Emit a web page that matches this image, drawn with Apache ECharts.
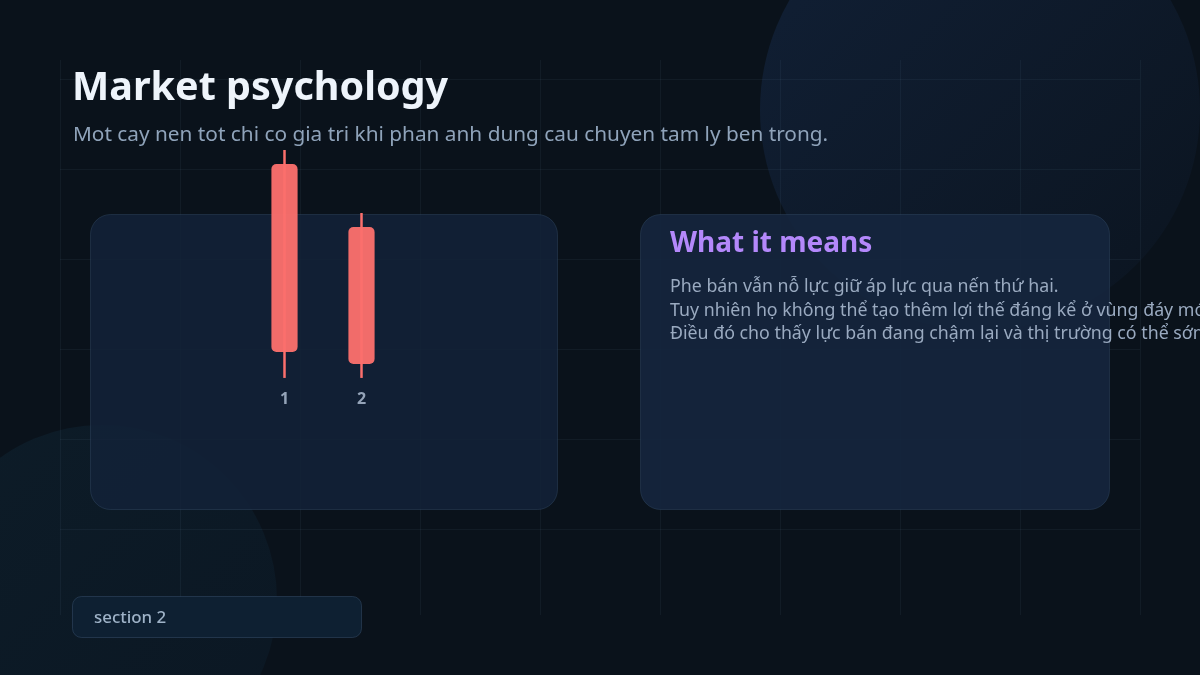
<!DOCTYPE html>
<html>
<head>
<meta charset="utf-8">
<script src="https://cdn.jsdelivr.net/npm/echarts@6/dist/echarts.min.js"></script>
<style>
html,body{margin:0;padding:0;background:#0a121b;}
#chart{width:1200px;height:675px;}
</style>
</head>
<body>
<div id="chart"></div>
<script>
// ---- data ----
const categories = ['1', '2'];
const opens  = [93.9, 66.5];
const closes = [12.2, 7.0];
const lows   = [0.9, 0.9];
const highs  = [100, 72.6];

const titleText = 'Market psychology';
const subtitleText = 'Mot cay nen tot chi co gia tri khi phan anh dung cau chuyen tam ly ben trong.';
const panelTitle = 'What it means';
const panelLines = [
  'Phe bán vẫn nỗ lực giữ áp lực qua nến thứ hai.',
  'Tuy nhiên họ không thể tạo thêm lợi thế đáng kể ở vùng đáy mới.',
  'Điều đó cho thấy lực bán đang chậm lại và thị trường có thể sớm đảo chiều.'
];
const footerText = 'section 2';

// ---- build ----
const FONT = '"Noto Sans", "Open Sans", sans-serif';
const candleColor = '#fb6f6c';
const seriesData = categories.map((c, i) => [i, opens[i], closes[i], lows[i], highs[i]]);

const bgGraphics = [];
// decorative circles
bgGraphics.push({
  type: 'circle', z: 0, silent: true,
  shape: {cx: 980, cy: 110, r: 220},
  style: {fill: {type: 'linear', x: 0, y: 0, x2: 1, y2: 1, colorStops: [
    {offset: 0, color: '#112036'}, {offset: 1, color: '#0b141f'}]}}
});
bgGraphics.push({
  type: 'circle', z: 0, silent: true,
  shape: {cx: 102, cy: 600, r: 175},
  style: {fill: {type: 'linear', x: 0, y: 0, x2: 1, y2: 1, colorStops: [
    {offset: 0, color: '#0d1c28'}, {offset: 1, color: '#0b1723'}]}}
});
// background grid lines
for (let x = 60; x <= 1140; x += 120) {
  bgGraphics.push({type: 'line', z: 1, silent: true,
    shape: {x1: x + 0.5, y1: 60, x2: x + 0.5, y2: 615},
    style: {stroke: 'rgba(120,150,180,0.08)', lineWidth: 1}});
}
for (let y = 79; y <= 530; y += 90) {
  bgGraphics.push({type: 'line', z: 1, silent: true,
    shape: {x1: 60, y1: y + 0.5, x2: 1140, y2: y + 0.5},
    style: {stroke: 'rgba(120,150,180,0.08)', lineWidth: 1}});
}
// panels
bgGraphics.push({type: 'rect', z: 2, silent: true,
  shape: {x: 90.5, y: 214.5, width: 467, height: 295, r: 20},
  style: {fill: 'rgba(19,34,56,0.85)', stroke: 'rgba(60,85,115,0.35)', lineWidth: 1}});
bgGraphics.push({type: 'rect', z: 2, silent: true,
  shape: {x: 640.5, y: 214.5, width: 469, height: 295, r: 20},
  style: {fill: 'rgba(21,38,62,0.9)', stroke: 'rgba(60,85,115,0.35)', lineWidth: 1}});
// footer box
bgGraphics.push({type: 'rect', z: 2, silent: true,
  shape: {x: 72.5, y: 596.5, width: 289, height: 41, r: 9},
  style: {fill: '#0e2032', stroke: 'rgba(60,85,115,0.45)', lineWidth: 1}});
bgGraphics.push({type: 'text', z: 3, silent: true,
  style: {x: 94, y: 618, text: footerText, fill: '#9fb3c8', font: '500 16.9px ' + FONT, verticalAlign: 'middle'}});
// texts
bgGraphics.push({type: 'text', z: 3, silent: true,
  style: {x: 72, y: 89, text: titleText, fill: '#eef4fb', font: 'bold 39.5px ' + FONT, verticalAlign: 'middle'}});
bgGraphics.push({type: 'text', z: 3, silent: true,
  style: {x: 73, y: 135, text: subtitleText, fill: '#8fa3ba', font: '20.8px ' + FONT, verticalAlign: 'middle'}});
bgGraphics.push({type: 'text', z: 3, silent: true,
  style: {x: 670, y: 244, text: panelTitle, fill: '#b488fb', font: 'bold 28px ' + FONT, verticalAlign: 'middle'}});
panelLines.forEach((t, i) => {
  bgGraphics.push({type: 'text', z: 3, silent: true,
    style: {x: 670, y: 287 + i * 23.6, text: t, fill: '#9aaac0', font: '17.8px ' + FONT, verticalAlign: 'middle'}});
});

const chart = echarts.init(document.getElementById('chart'), null, {renderer: 'canvas'});
chart.setOption({
  backgroundColor: '#0a121b',
  animation: false,
  graphic: bgGraphics,
  grid: {left: 246, width: 154, top: 150, bottom: 295, z: 5},
  xAxis: {
    type: 'category', data: categories, boundaryGap: true, z: 5,
    axisLine: {show: false}, axisTick: {show: false}, splitLine: {show: false},
    axisLabel: {color: '#94a3b8', fontSize: 16, fontWeight: 'bold', fontFamily: FONT, margin: 11}
  },
  yAxis: {
    type: 'value', min: 0, max: 100, show: false, splitLine: {show: false}
  },
  series: [{
    type: 'custom',
    z: 10,
    data: seriesData,
    encode: {x: 0, y: [1, 2, 3, 4]},
    renderItem: function (params, api) {
      const x = api.value(0);
      const pO = api.coord([x, api.value(1)]);
      const pC = api.coord([x, api.value(2)]);
      const pL = api.coord([x, api.value(3)]);
      const pH = api.coord([x, api.value(4)]);
      const bw = api.size([1, 0])[0] * 0.34;
      const top = Math.min(pO[1], pC[1]);
      const h = Math.abs(pO[1] - pC[1]);
      return {
        type: 'group',
        children: [
          {type: 'line', shape: {x1: pH[0], y1: pH[1], x2: pL[0], y2: pL[1]},
           style: {stroke: candleColor, lineWidth: 2.5}},
          {type: 'rect', shape: {x: pO[0] - bw / 2, y: top, width: bw, height: h, r: 5},
           style: {fill: candleColor, opacity: 0.96}}
        ]
      };
    }
  }]
});
</script>
</body>
</html>
